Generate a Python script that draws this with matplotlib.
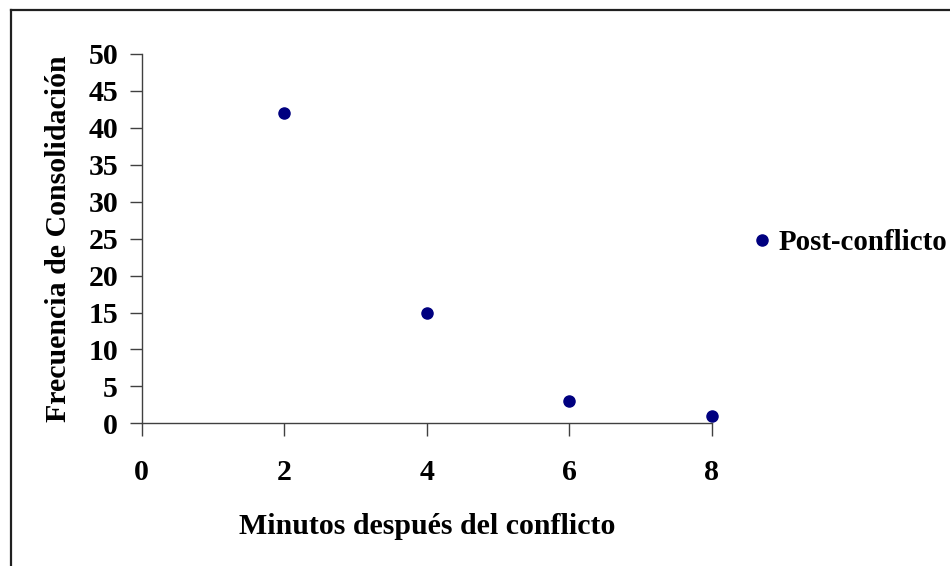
import matplotlib
matplotlib.use("Agg")
import matplotlib.pyplot as plt
from matplotlib.lines import Line2D

minutos = [2, 4, 6, 8]
frecuencia = [42, 15, 3, 1]
serie = "Post-conflicto"
xticks = [0, 2, 4, 6, 8]
yticks = list(range(0, 55, 5))

plt.rcParams['font.family'] = ['Liberation Serif', 'DejaVu Serif']
plt.rcParams['font.weight'] = 'bold'

W, H = 950, 566
fs = 21.5
fig = plt.figure(figsize=(W / 100, H / 100), dpi=100)
ax = fig.add_axes([141.7 / W, 1 - 423.3 / H, 570 / W, 369.3 / H])

ax.plot(minutos, frecuencia, 'o', color='#000080', markersize=8,
        linestyle='none', label=serie, clip_on=False)

ax.set_xlim(0, 8)
ax.set_ylim(0, 50)
ax.set_xticks(xticks)
ax.set_yticks(yticks)
for s in ['top', 'right']:
    ax.spines[s].set_visible(False)
for s in ['left', 'bottom']:
    ax.spines[s].set_color('#404040')
    ax.spines[s].set_linewidth(1.0)
ax.tick_params(axis='x', direction='out', length=9, width=1, color='#404040',
               pad=17, labelsize=fs)
ax.tick_params(axis='y', direction='out', length=9, width=1, color='#404040',
               pad=8, labelsize=fs)
for lab in ax.get_xticklabels() + ax.get_yticklabels():
    lab.set_fontweight('bold')

ax.set_xlabel("Minutos después del conflicto", fontsize=fs, fontweight='bold',
              labelpad=19)
ax.set_ylabel("Frecuencia de Consolidación", fontsize=fs, fontweight='bold',
              labelpad=12)

leg = fig.legend(loc='center left', bbox_to_anchor=(753 / W, 1 - 243 / H),
                 frameon=False, handletextpad=0.3, handlelength=0.6,
                 borderpad=0, borderaxespad=0,
                 prop={'size': 20.8, 'weight': 'bold'}, markerscale=1.0)

# marco exterior del grafico (solo se ven el borde izquierdo y superior)
fig.add_artist(Line2D([10.5 / W, 10.5 / W], [0, 1 - 9.5 / H],
                      color='#202020', linewidth=1.6, transform=fig.transFigure))
fig.add_artist(Line2D([10.5 / W, 1], [1 - 9.5 / H, 1 - 9.5 / H],
                      color='#202020', linewidth=1.6, transform=fig.transFigure))

fig.savefig("out.png", dpi=100)
